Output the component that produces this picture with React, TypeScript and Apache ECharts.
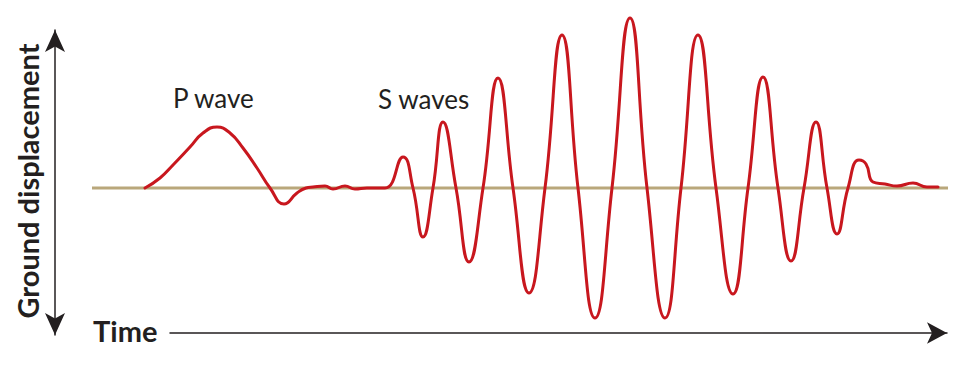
import React, { useEffect, useRef } from "react";
import * as echarts from "echarts";

// Time (arbitrary units along the trace) and ground displacement
const time = [
  145, 160, 173, 190, 203, 217, 230, 243, 257, 270, 284, 297, 306, 313, 325, 333,
  345, 355, 367, 385,
  403, 413, 423, 433, 443, 456, 469, 483, 498, 513, 529, 545, 562, 578, 595, 612,
  630, 647, 665, 681, 698, 716, 733, 748, 763, 778, 791, 804, 816, 827, 837, 848,
  859, 866, 873, 885, 897, 913, 927, 938,
];
const displacement = [
  0, 10, 23, 41, 55, 61, 55, 40, 20, 0, -16, -5, 0, 1, 2, -1,
  2, -1, 0, 0,
  31, 0, -49, 0, 66, 0, -74, 0, 110, 0, -105, 0, 153, 0, -130, 0,
  170, 0, -130, 0, 153, 0, -106, 0, 111, 0, -73, 0, 66, 0, -46, 0,
  28, 24, 6, 4, 2, 5, 1, 1,
];
const baselineTime = [92, 948];
const baselineValue = [0, 0];

const waveLabels = ["P wave", "S waves"];
const axisTitles = ["Ground displacement", "Time"];

export default function App() {
  const ref = useRef<HTMLDivElement>(null);

  useEffect(() => {
    if (!ref.current) return;
    const chart = echarts.init(ref.current, null, { renderer: "svg" });
    const trace = time.map((t, i) => [t, displacement[i]]);
    const base = baselineTime.map((t, i) => [t, baselineValue[i]]);
    const axisColor = "#231f20";

    chart.setOption({
      animation: false,
      backgroundColor: "#ffffff",
      grid: [
        { left: 0, right: 0, top: 0, bottom: 0 },
        { left: 55, width: 10, top: 30, bottom: 43 },
        { left: 170, right: 13, top: 300, bottom: 45 },
      ],
      xAxis: [
        { gridIndex: 0, type: "value", min: 0, max: 960, show: false },
        { gridIndex: 1, type: "value", min: 0, max: 1, show: false },
        {
          gridIndex: 2,
          type: "value",
          min: 0,
          max: 1,
          position: "bottom",
          axisLine: {
            show: true,
            onZero: false,
            symbol: ["none", "arrow"],
            symbolSize: [16, 20],
            lineStyle: { color: axisColor, width: 1.5 },
          },
          axisTick: { show: false },
          axisLabel: { show: false },
          splitLine: { show: false },
        },
      ],
      yAxis: [
        { gridIndex: 0, type: "value", min: -190, max: 188, show: false },
        {
          gridIndex: 1,
          type: "value",
          min: 0,
          max: 1,
          position: "left",
          axisLine: {
            show: true,
            onZero: false,
            symbol: ["arrow", "arrow"],
            symbolSize: [15, 22],
            lineStyle: { color: axisColor, width: 1.5 },
          },
          axisTick: { show: false },
          axisLabel: { show: false },
          splitLine: { show: false },
        },
        { gridIndex: 2, type: "value", min: 0, max: 1, show: false },
      ],
      series: [
        {
          type: "line",
          xAxisIndex: 0,
          yAxisIndex: 0,
          data: base,
          symbol: "none",
          lineStyle: { color: "#b9a77b", width: 3 },
          z: 1,
          silent: true,
        },
        {
          type: "line",
          xAxisIndex: 0,
          yAxisIndex: 0,
          data: trace,
          symbol: "none",
          smooth: 0.5,
          lineStyle: { color: "#c8171e", width: 3, cap: "round", join: "round" },
          z: 2,
          silent: true,
        },
      ],
      graphic: [
        {
          type: "text",
          x: 173,
          y: 98,
          style: {
            text: waveLabels[0],
            font: "400 26px Lato",
            fill: axisColor,
            textAlign: "left",
            textVerticalAlign: "middle",
          },
        },
        {
          type: "text",
          x: 378,
          y: 99,
          style: {
            text: waveLabels[1],
            font: "400 26px Lato",
            fill: axisColor,
            textAlign: "left",
            textVerticalAlign: "middle",
          },
        },
        {
          type: "text",
          x: 27,
          y: 181,
          rotation: Math.PI / 2,
          style: {
            text: axisTitles[0],
            font: "700 29px Lato",
            fill: axisColor,
            textAlign: "center",
            textVerticalAlign: "middle",
          },
        },
        {
          type: "text",
          x: 93,
          y: 330,
          style: {
            text: axisTitles[1],
            font: "700 29px Lato",
            fill: axisColor,
            textAlign: "left",
            textVerticalAlign: "middle",
          },
        },
      ],
    });
    return () => chart.dispose();
  }, []);

  return (
    <div
      ref={ref}
      style={{ position: "fixed", left: 0, top: 0, width: 960, height: 378 }}
    />
  );
}
